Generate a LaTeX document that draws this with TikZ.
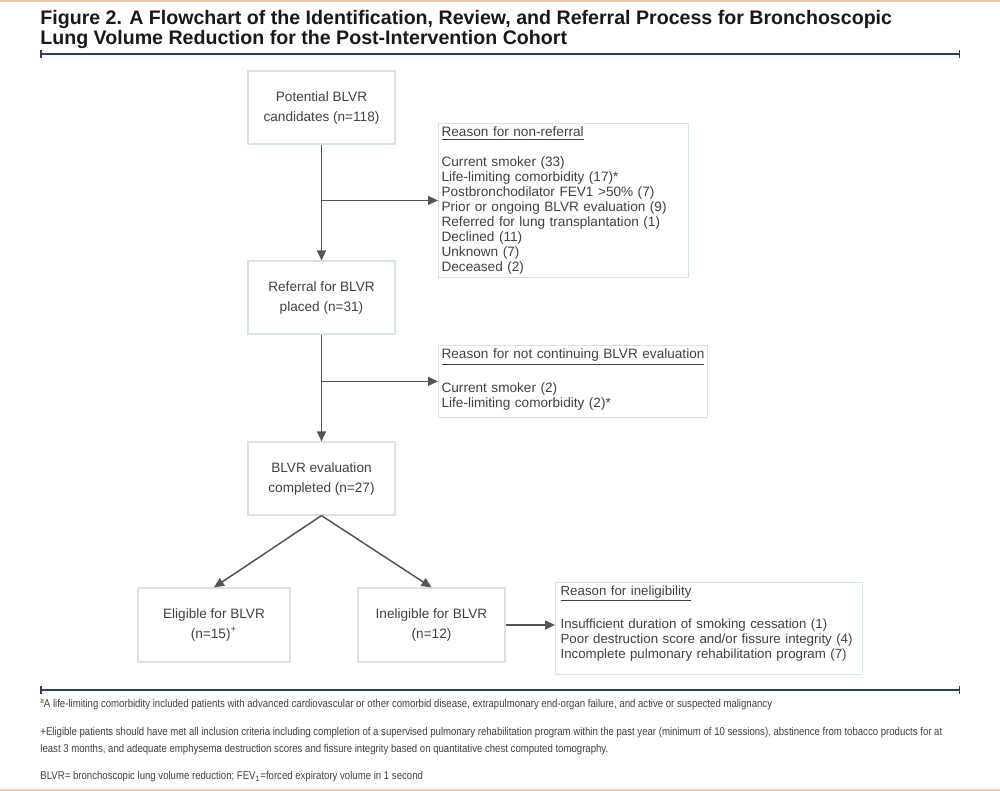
\documentclass[tikz,border=0pt]{standalone}
\usepackage{fontspec}
\setmainfont{Liberation Sans}
\newfontfamily\narrowfont[FakeStretch=0.85]{Liberation Sans}
\usetikzlibrary{arrows.meta}
\definecolor{peach}{HTML}{F9C6AC}
\definecolor{navy}{HTML}{2E3D5C}
\definecolor{boxline}{HTML}{D6E3E9}
\definecolor{ink}{HTML}{404040}
\definecolor{arrowgray}{HTML}{555555}

\begin{document}
\begin{tikzpicture}[x=0.5pt,y=-0.5pt,
	stage/.style={draw=boxline, line width=0.6pt, minimum width=73.5pt, minimum height=36.5pt, align=center, text=ink, font=\fontsize{6.8}{10}\selectfont},
	reason/.style={draw=boxline, line width=0.6pt, align=left, inner xsep=1.5pt, inner ysep=1.5pt, text=ink, font=\fontsize{6.8}{7.5}\selectfont},
	flow/.style={draw=arrowgray, line width=0.75pt, -{Triangle[length=5pt,width=4.5pt]}},
	rule/.style={draw=navy, line width=0.75pt, {Bar[width=4pt]}-{Bar[width=4pt]}},
	note/.style={anchor=base west, inner sep=0, align=left, text=ink, font=\narrowfont\fontsize{5.65}{8.5}\selectfont}]
	\useasboundingbox (0,0) rectangle (1000,791);
	\fill[peach] (0,0) rectangle (1000,2);
	\fill[peach] (0,789) rectangle (1000,791);
	
	\node[anchor=north west, inner sep=0, align=left, text=black!90, font=\bfseries\fontsize{9.8}{10}\selectfont] (title) at (40,10) {Figure 2. A Flowchart of the Identification, Review, and Referral Process for Bronchoscopic\\Lung Volume Reduction for the Post-Intervention Cohort};
	\draw[rule] (40,54) -- (960,54);
	
	\node[stage] (cand) at (321.5,107.5) {Potential BLVR\\candidates (n=118)};
	\node[stage] (refer) at (321.5,297.5) {Referral for BLVR\\placed (n=31)};
	\node[stage] (evald) at (321.5,478.5) {BLVR evaluation\\completed (n=27)};
	\node[stage, minimum width=76pt, minimum height=37pt] (elig) at (214,625) {Eligible for BLVR\\(n=15)\textsuperscript{+}};
	\node[stage, minimum height=37pt] (inelig) at (431.5,625) {Ineligible for BLVR\\(n=12)};
	
	\node[reason, anchor=north west, text width=122pt] (nonref) at (438,123) {\underline{Reason for non-referral}\\[7.5pt]
		Current smoker (33)\\Life-limiting comorbidity (17)*\\Postbronchodilator FEV1 >50\% (7)\\Prior or ongoing BLVR evaluation (9)\\
		Referred for lung transplantation (1)\\Declined (11)\\Unknown (7)\\Deceased (2)};
	\node[reason, anchor=north west, text width=131.5pt] (notcont) at (438,345) {\underline{Reason for not continuing BLVR evaluation}\\[7.5pt]
		Current smoker (2)\\Life-limiting comorbidity (2)*\\[-4pt]\mbox{}};
	\node[reason, anchor=north west, inner xsep=2.5pt, text width=148.5pt, font=\fontsize{6.65}{7.5}\selectfont] (inelwhy) at (555,582) {\underline{Reason for ineligibility}\\[7.5pt]
		Insufficient duration of smoking cessation (1)\\Poor destruction score and/or fissure integrity (4)\\Incomplete pulmonary rehabilitation program (7)\\[-1pt]\mbox{}};
	
	\draw[flow] (cand) -- (refer);
	\draw[flow] (cand.south |- nonref.west) -- (nonref.west);
	\draw[flow] (refer) -- (evald);
	\draw[flow] (refer.south |- notcont.west) -- (notcont.west);
	\draw[flow] (evald.south) -- (elig.north);
	\draw[flow] (evald.south) -- (inelig.north);
	\draw[flow] (inelig.east) -- (inelig.east -| inelwhy.west);
	
	\draw[rule] (40,690) -- (960,690);
	\node[note] (fna) at (40,707) {\raisebox{0.55ex}{\fontsize{3.8}{4}\selectfont a}A life-limiting comorbidity included patients with advanced cardiovascular or other comorbid disease, extrapulmonary end-organ failure, and active or suspected malignancy};
	\node[note] (fnb) at (40,752) {+Eligible patients should have met all inclusion criteria including completion of a supervised pulmonary rehabilitation program within the past year (minimum of 10 sessions), abstinence from tobacco products for at\\least 3 months, and adequate emphysema destruction scores and fissure integrity based on quantitative chest computed tomography.};
	\node[note] (fnc) at (40,779) {BLVR= bronchoscopic lung volume reduction; FEV\textsubscript{1}=forced expiratory volume in 1 second};
\end{tikzpicture}
\end{document}
